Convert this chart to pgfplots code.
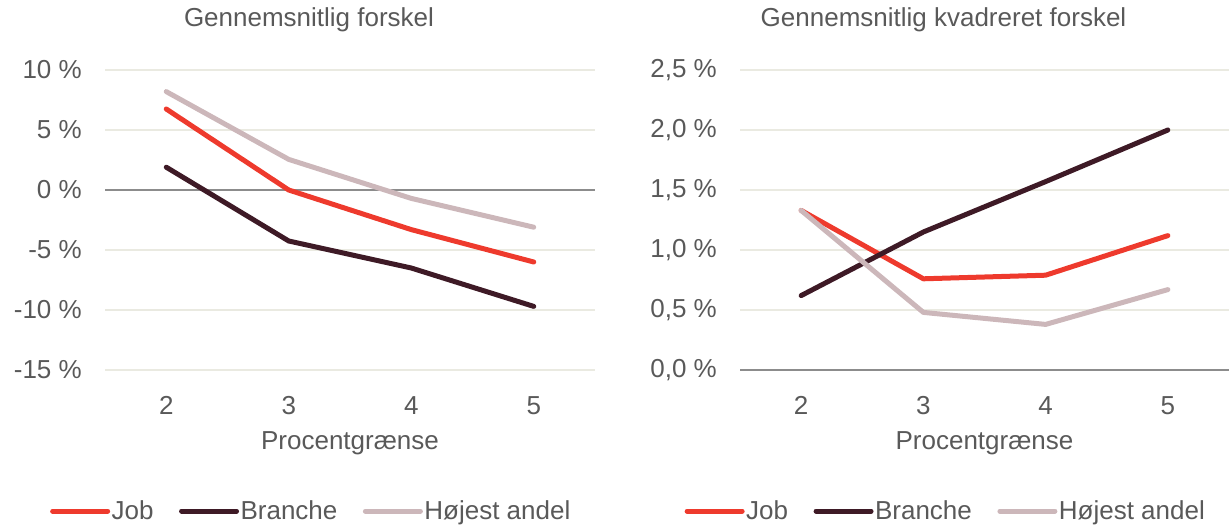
\documentclass[border=0pt]{standalone}
\usepackage{fontspec}
\setmainfont{Liberation Sans}
\usepackage{pgfplots}
\pgfplotsset{compat=1.18}
\definecolor{jobred}{HTML}{EE3A2D}
\definecolor{branche}{HTML}{3E1A26}
\definecolor{hoj}{HTML}{CCB7BA}
\definecolor{gridc}{HTML}{EAEAE1}
\definecolor{zeroc}{HTML}{8C8C8C}
\definecolor{txt}{HTML}{595959}
\pgfplotsset{
  mystyle/.style={
    scale only axis, width=490bp, height=300bp,
    xmin=1.5, xmax=5.5,
    xtick={2,3,4,5}, xticklabels={2,3,4,5},
    axis line style={draw=none},
    major tick length=0pt,
    ymajorgrids, grid style={gridc, line width=1.5bp},
    font=\fontsize{26bp}{31bp}\selectfont,
    every tick label/.append style={text=txt},
    yticklabel style={anchor=east, inner sep=0pt, xshift=-23bp},
    xticklabel style={anchor=north, inner sep=0pt, yshift=-26bp},
    xlabel={Procentgrænse},
    xlabel style={at={(axis description cs:0.5,0)}, anchor=north, inner sep=0pt, yshift=-61bp, text=txt},
    title style={at={(axis description cs:0.5,1)}, anchor=base, inner sep=0pt, yshift=38bp, xshift=-41bp, text=txt},
    legend columns=3,
    legend style={at={(axis description cs:0.5,0)}, anchor=center, yshift=-141bp, xshift=-39bp,
      draw=none, fill=none, font=\fontsize{26bp}{31bp}\selectfont, text=txt,
      nodes={inner sep=1.5bp},
      /tikz/every even column/.append style={column sep=24bp}},
    legend image code/.code={\draw[#1] (0bp,0bp) -- (55bp,0bp);},
    every axis plot/.append style={line width=5bp, line cap=round, line join=round},
  }
}
\begin{document}
\begin{tikzpicture}
\useasboundingbox (0bp,-156bp) rectangle (1229bp,370bp);
\begin{axis}[mystyle, at={(105bp,0bp)}, anchor=south west,
  ymin=-15, ymax=10, ytick={-15,-10,-5,0,5,10},
  yticklabels={-15 \%,-10 \%,-5 \%,0 \%,5 \%,10 \%},
  title={Gennemsnitlig forskel}]
\addplot[zeroc, line width=1.5bp, line cap=butt, forget plot] coordinates {(1.5,0) (5.5,0)};
\addplot[jobred] coordinates {(2,6.75) (3,0.0) (4,-3.3) (5,-6.0)};
\addlegendentry{Job}
\addplot[branche] coordinates {(2,1.9) (3,-4.25) (4,-6.5) (5,-9.7)};
\addlegendentry{Branche}
\addplot[hoj] coordinates {(2,8.2) (3,2.55) (4,-0.7) (5,-3.1)};
\addlegendentry{Højest andel}
\end{axis}
\begin{axis}[mystyle, at={(740bp,0bp)}, anchor=south west, width=489bp,
  ymin=0, ymax=2.5, ytick={0,0.5,1,1.5,2,2.5},
  yticklabels={{0,0 \%},{0,5 \%},{1,0 \%},{1,5 \%},{2,0 \%},{2,5 \%}},
  title={Gennemsnitlig kvadreret forskel}]
\addplot[zeroc, line width=1.5bp, line cap=butt, forget plot] coordinates {(1.5,0) (5.5,0)};
\addplot[jobred] coordinates {(2,1.33) (3,0.76) (4,0.79) (5,1.12)};
\addlegendentry{Job}
\addplot[branche] coordinates {(2,0.62) (3,1.15) (4,1.57) (5,2.0)};
\addlegendentry{Branche}
\addplot[hoj] coordinates {(2,1.33) (3,0.48) (4,0.38) (5,0.67)};
\addlegendentry{Højest andel}
\end{axis}
\end{tikzpicture}
\end{document}
